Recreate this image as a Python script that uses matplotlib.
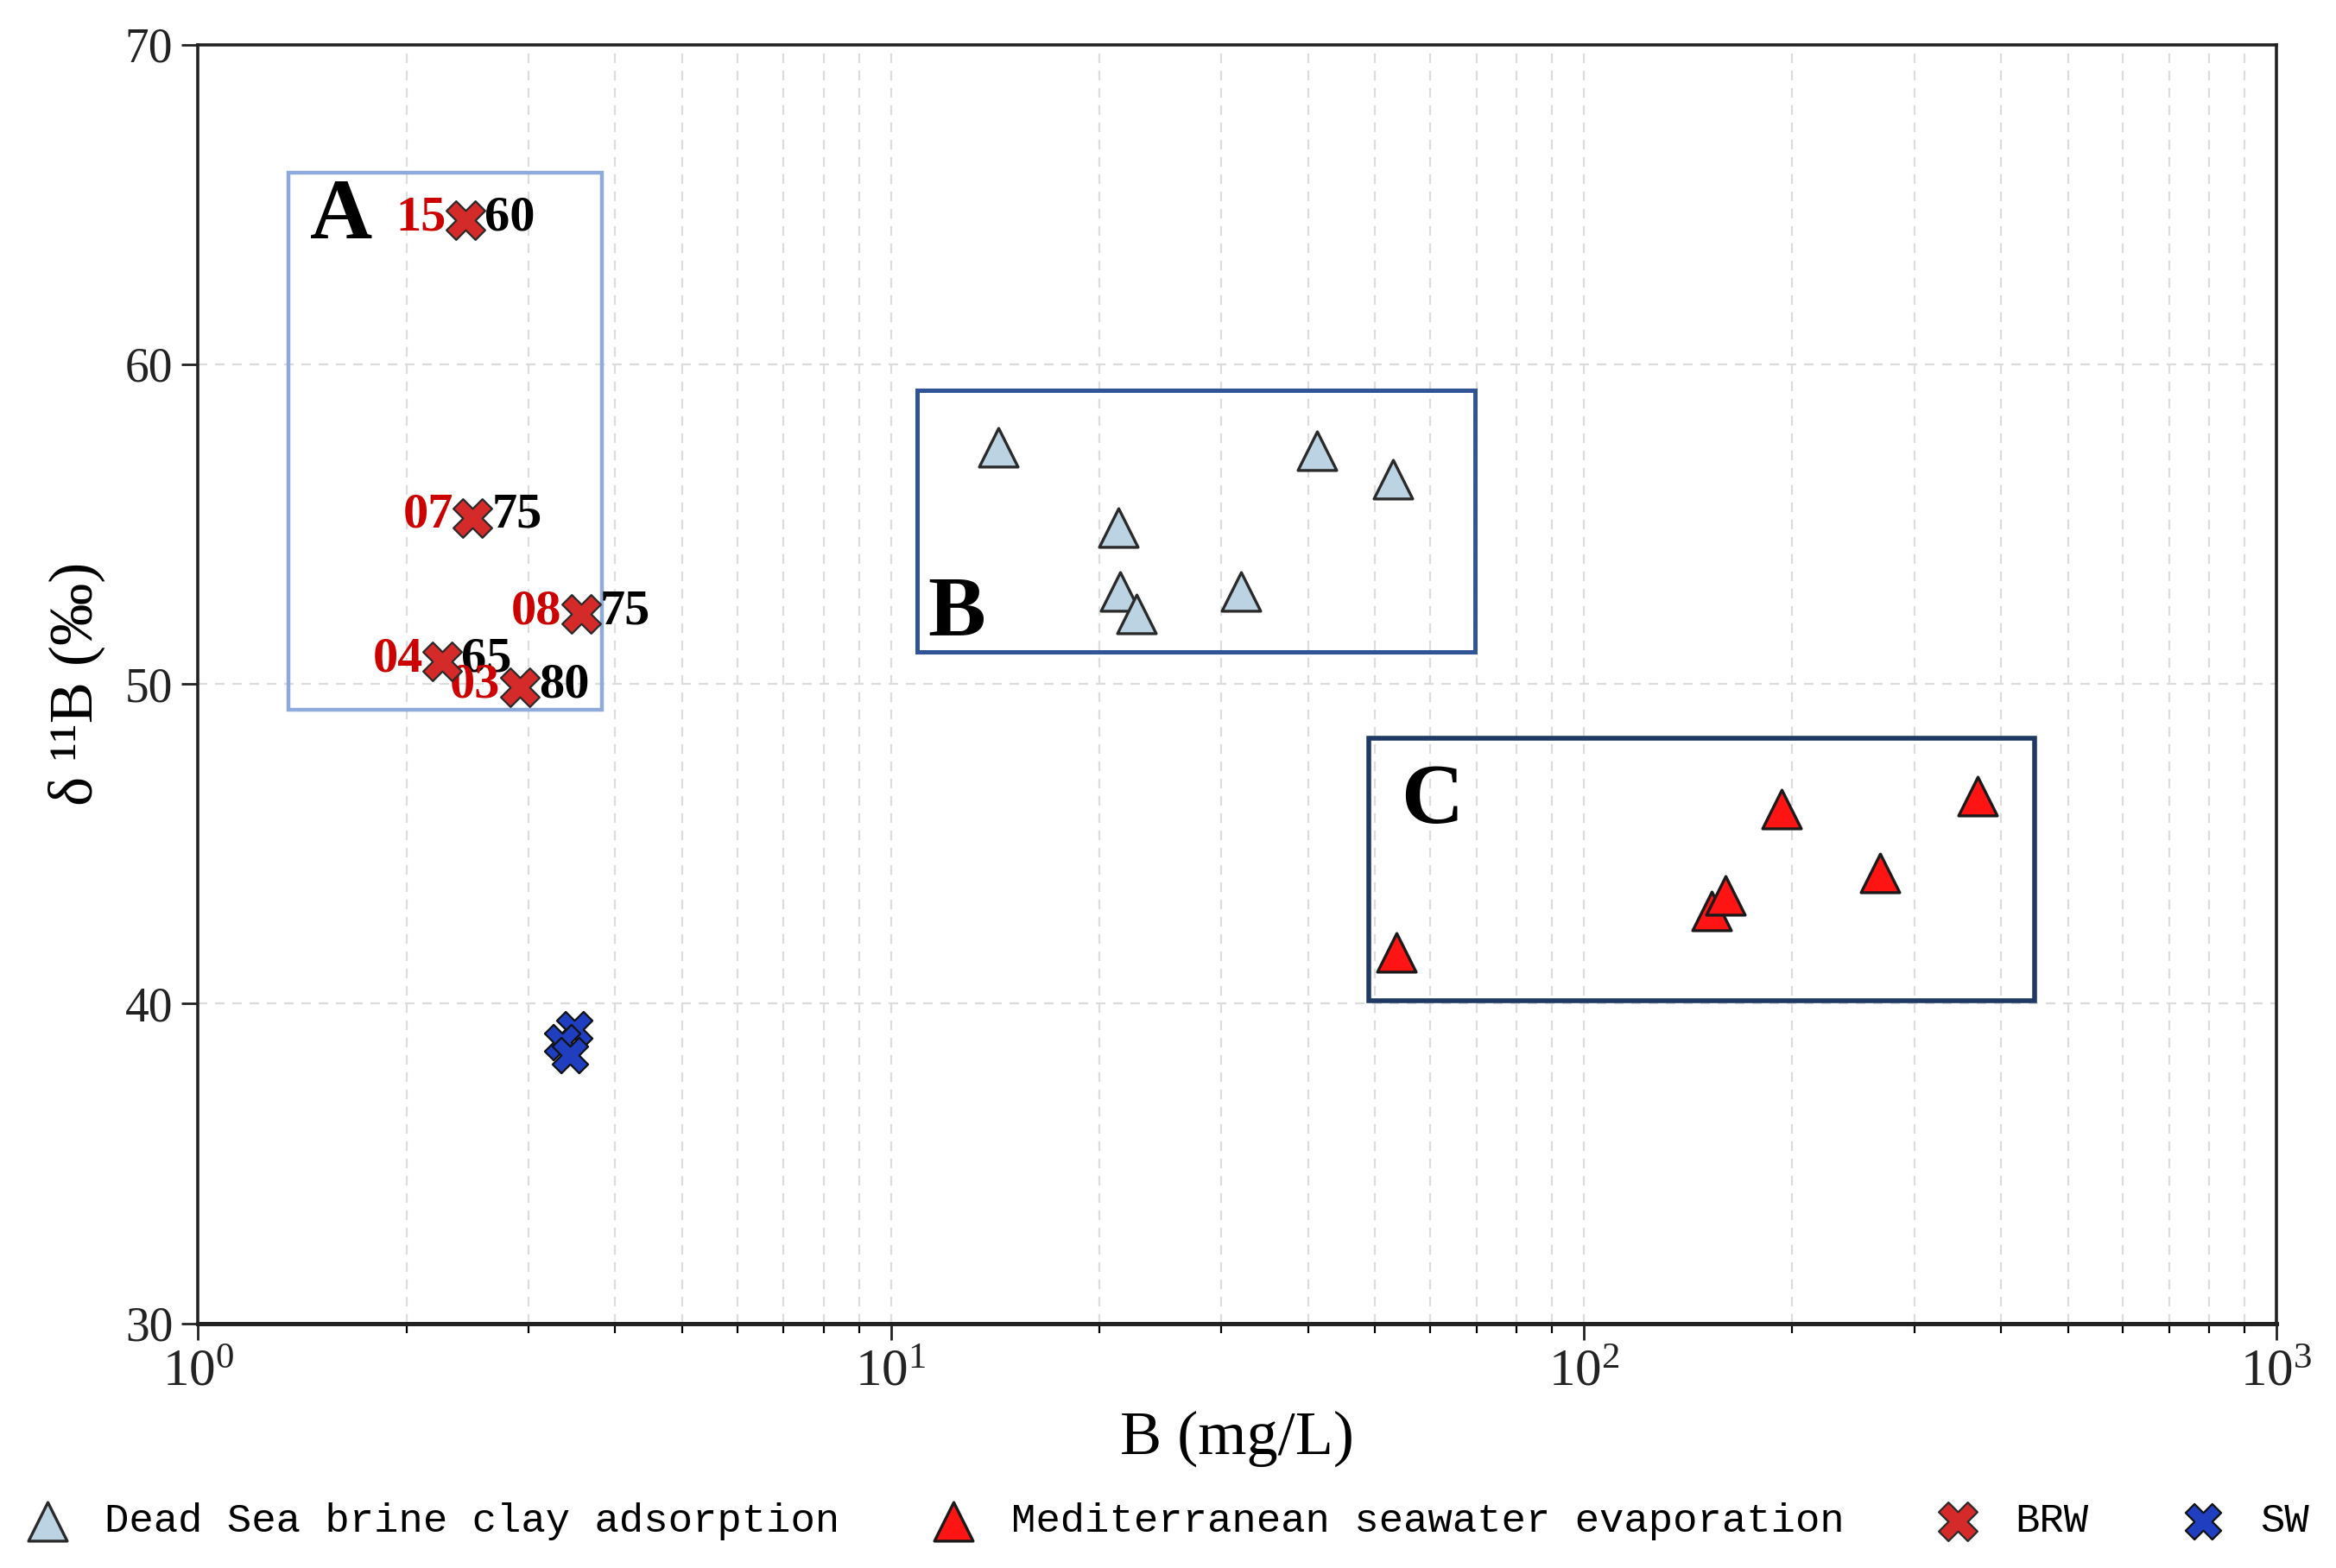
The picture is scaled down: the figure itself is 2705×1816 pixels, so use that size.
import matplotlib
matplotlib.use("Agg")
import matplotlib.pyplot as plt
from matplotlib.patches import Rectangle

plt.rcParams["font.family"] = ["Liberation Serif", "DejaVu Serif"]
plt.rcParams["mathtext.fontset"] = "stix"

# ---------------------------------------------------------------------------
# Data
# ---------------------------------------------------------------------------
dead_sea_b = [14.3, 41.2, 53.1, 21.3, 21.4, 22.6, 32.0]
dead_sea_d11b = [57.4, 57.3, 56.4, 54.9, 52.9, 52.2, 52.9]

med_b = [53.6, 153, 160, 193, 268, 370]
med_d11b = [41.6, 42.9, 43.4, 46.1, 44.1, 46.5]

brw_b = [2.43, 2.49, 3.57, 2.25, 2.91]
brw_d11b = [64.5, 55.2, 52.2, 50.7, 49.9]
brw_id = ["15", "07", "08", "04", "03"]
brw_val = ["60", "75", "75", "65", "80"]

sw_b = [3.49, 3.35, 3.44]
sw_d11b = [39.2, 38.8, 38.4]

# group boxes: (x0, x1, y0, y1)
box_names = ["A", "B", "C"]
box_x0 = [1.35, 10.9, 49.0]
box_x1 = [3.83, 69.7, 448]
box_y0 = [49.2, 51.0, 40.1]
box_y1 = [66.0, 59.2, 48.3]
box_colors = ["#8eaadb", "#2f5597", "#1f3864"]
box_lw = [1.6, 1.8, 2.0]
label_x = [1.45, 11.3, 54.5]
label_y = [64.6, 52.2, 46.3]

# ---------------------------------------------------------------------------
# Plot
# ---------------------------------------------------------------------------
fig = plt.figure(figsize=(13.525, 9.08), dpi=200)
ax = fig.add_axes([0.0848, 0.156, 0.8897, 0.8155])

ax.set_xscale("log")
ax.set_xlim(1, 1000)
ax.set_ylim(30, 70)
ax.set_yticks([30, 40, 50, 60, 70])

ax.grid(True, which="major", axis="both", ls=(0, (5, 4)), color="#dcdcdc", lw=0.8)
ax.grid(True, which="minor", axis="x", ls=(0, (5, 4)), color="#dcdcdc", lw=0.8)
ax.set_axisbelow(True)

for s in ax.spines.values():
    s.set_linewidth(1.3)
    s.set_color("#222222")
ax.spines["bottom"].set_linewidth(1.8)

ax.tick_params(axis="both", which="major", direction="out", length=7, width=1.0,
               labelsize=20, colors="#222222")
ax.tick_params(axis="x", which="minor", direction="out", length=4, width=0.8)
ax.tick_params(axis="x", which="major", labelsize=22)

# boxes
for name, x0, x1, y0, y1, c, lw, lx, ly in zip(box_names, box_x0, box_x1, box_y0,
                                                  box_y1, box_colors, box_lw,
                                                  label_x, label_y):
    ax.add_patch(Rectangle((x0, y0), x1 - x0, y1 - y0, fill=False,
                           edgecolor=c, lw=lw, zorder=2))
    ax.text(lx, ly, name, fontsize=36, fontweight="bold", ha="left",
            va="center", zorder=5)

ax.scatter(dead_sea_b, dead_sea_d11b, marker="^", s=260, c="#bcd3e4",
           edgecolors="#2a2a2a", linewidths=1.2, zorder=4,
           label="Dead Sea brine clay adsorption")
ax.scatter(med_b, med_d11b, marker="^", s=260, c="#ff1414",
           edgecolors="#1a1a1a", linewidths=1.2, zorder=4,
           label="Mediterranean seawater evaporation")
ax.scatter(brw_b, brw_d11b, marker="X", s=260, c="#d42a2a",
           edgecolors="#2a2a2a", linewidths=0.8, zorder=4, label="BRW")
ax.scatter(sw_b, sw_d11b, marker="X", s=220, c="#1f3fc0",
           edgecolors="#111111", linewidths=0.8, zorder=4, label="SW")

for x, y, i, v in zip(brw_b, brw_d11b, brw_id, brw_val):
    ax.annotate(i, (x, y), xytext=(-8, 1), textcoords="offset points",
                ha="right", va="center", fontsize=21, fontweight="bold",
                color="#cc0000", zorder=3)
    ax.annotate(v, (x, y), xytext=(8, 1), textcoords="offset points",
                ha="left", va="center", fontsize=21, fontweight="bold",
                color="black", zorder=3)

ax.set_xlabel("B (mg/L)", fontsize=26, labelpad=6)
ax.set_ylabel("δ ¹¹B (‰)", fontsize=26, labelpad=8)

leg = fig.legend(loc="lower center", bbox_to_anchor=(0.5, -0.006), ncol=4,
                 frameon=False, handlelength=1.0, handletextpad=0.9,
                 columnspacing=2.3, markerscale=1.0,
                 prop={"family": "Liberation Mono", "size": 17})

fig.savefig("out.png", dpi=200, facecolor="white")
